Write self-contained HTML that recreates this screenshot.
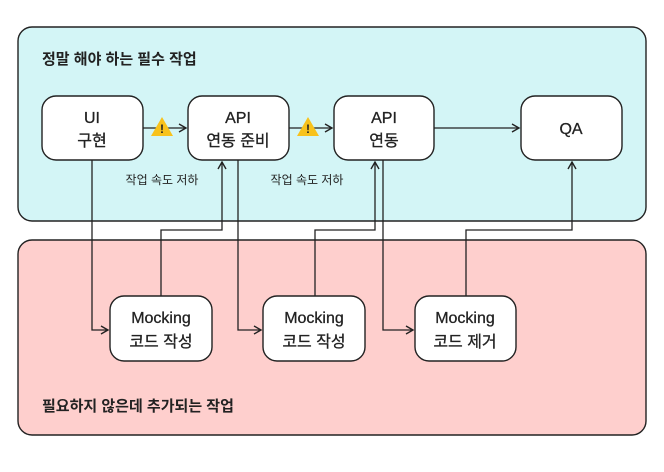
<!DOCTYPE html>
<html><head><meta charset="utf-8"><style>
body{margin:0;background:#fff;width:664px;height:467px;overflow:hidden}
svg text{font-family:"Liberation Sans","Noto Sans CJK KR",sans-serif;fill:#222}
</style></head><body>
<svg width="664" height="467" viewBox="0 0 664 467" xmlns="http://www.w3.org/2000/svg">
<defs><marker id="a" markerWidth="10" markerHeight="10" refX="8" refY="5" orient="auto" markerUnits="userSpaceOnUse"><path d="M1,1 L8,5 L1,9" fill="none" stroke="#222" stroke-width="1.4"/></marker></defs>
<rect x="18" y="27" width="628" height="194" rx="14" fill="#d3f5f6" stroke="#222" stroke-width="1.4"/>
<rect x="18" y="240" width="628" height="195" rx="14" fill="#fecfcd" stroke="#222" stroke-width="1.4"/>
<text x="42" y="64" font-size="15" font-weight="bold">정말 해야 하는 필수 작업</text>
<text x="42" y="411" font-size="15" font-weight="bold">필요하지 않은데 추가되는 작업</text>
<g fill="none" stroke="#222" stroke-width="1.3">
<path d="M143,128H186" marker-end="url(#a)"/>
<path d="M289,128H332" marker-end="url(#a)"/>
<path d="M434,128H519" marker-end="url(#a)"/>
<path d="M92,160V330H108" marker-end="url(#a)"/>
<path d="M161,296V230H222V162" marker-end="url(#a)"/>
<path d="M238,160V330H261" marker-end="url(#a)"/>
<path d="M315,296V230H375V162" marker-end="url(#a)"/>
<path d="M383,160V330H413" marker-end="url(#a)"/>
<path d="M466,296V230H572V162" marker-end="url(#a)"/>
</g>
<g fill="#fff" stroke="#222" stroke-width="1.4">
<rect x="42" y="96" width="101" height="64" rx="14"/>
<rect x="188" y="96" width="101" height="64" rx="14"/>
<rect x="334" y="96" width="100" height="64" rx="14"/>
<rect x="521" y="96" width="101" height="64" rx="14"/>
<rect x="110" y="296" width="102" height="65" rx="14"/>
<rect x="263" y="296" width="102" height="65" rx="14"/>
<rect x="415" y="296" width="101" height="65" rx="14"/>
</g>
<g fill="#f8c21c"><path d="M162,117L173,136H151Z"/><path d="M308,117L319,136H297Z"/></g>
<g font-size="12" font-weight="bold" text-anchor="middle"><text x="162" y="133">!</text><text x="308" y="133">!</text></g>
<g font-size="16" text-anchor="middle" stroke="#222" stroke-width="0.3">
<text x="92" y="123">UI</text><text x="92" y="146">구현</text>
<text x="238" y="123">API</text><text x="238" y="146">연동 준비</text>
<text x="384" y="123">API</text><text x="384" y="146">연동</text>
<text x="571" y="134">QA</text>
<text x="161" y="323">Mocking</text><text x="161" y="347">코드 작성</text>
<text x="314" y="323">Mocking</text><text x="314" y="347">코드 작성</text>
<text x="465" y="323">Mocking</text><text x="465" y="347">코드 제거</text>
</g>
<g font-size="12" text-anchor="middle"><text x="162" y="184">작업 속도 저하</text><text x="307" y="184">작업 속도 저하</text></g>
</svg>
</body></html>
